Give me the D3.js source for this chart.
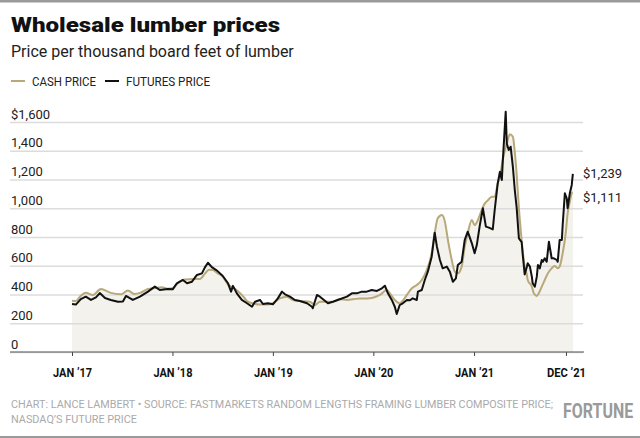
<!DOCTYPE html>
<html lang="en">
<head>
  <meta charset="UTF-8">
  <title>Wholesale lumber prices</title>
  <script src="https://d3js.org/d3.v7.min.js"></script>
  <style>
    body {
      margin: 0;
      background: #fff;
    }
    svg {
      display: block;
      font-family: Roboto, sans-serif;
    }
  </style>
</head>
<body>
<svg width="640" height="438"></svg>

<script>
// Futures price (black), $ per thousand board feet
const futuresPrice = [
  ["2017-01-01",334],["2017-01-15",330],["2017-02-02",368],["2017-02-20",385],["2017-03-11",362],
  ["2017-03-29",380],["2017-04-12",410],["2017-05-01",376],["2017-05-22",362],["2017-06-17",350],
  ["2017-07-05",352],["2017-07-16",390],["2017-08-10",362],["2017-09-05",385],["2017-10-04",420],
  ["2017-10-29",455],["2017-11-16",431],["2017-12-15",438],["2018-01-02",436],["2018-01-17",478],
  ["2018-02-08",501],["2018-02-23",478],["2018-03-13",489],["2018-03-31",536],["2018-04-18",547],
  ["2018-04-29",589],["2018-05-10",621],["2018-05-24",590],["2018-06-12",566],["2018-07-03",529],
  ["2018-07-22",478],["2018-08-02",420],["2018-08-09",460],["2018-08-23",408],["2018-09-10",362],
  ["2018-09-29",339],["2018-10-17",315],["2018-10-28",350],["2018-11-15",362],["2018-11-26",334],
  ["2018-12-14",339],["2019-01-01",332],["2019-01-19",373],["2019-02-03",420],["2019-02-14",401],
  ["2019-03-04",385],["2019-03-22",362],["2019-04-09",355],["2019-05-05",339],["2019-05-23",315],
  ["2019-05-26",304],["2019-06-10",397],["2019-06-21",385],["2019-07-09",357],["2019-07-20",339],
  ["2019-08-07",350],["2019-09-01",367],["2019-09-27",385],["2019-10-15",408],["2019-11-02",408],
  ["2019-11-20",420],["2019-12-08",420],["2019-12-26",431],["2020-01-14",425],["2020-02-01",443],
  ["2020-02-12",461],["2020-02-23",408],["2020-03-08",362],["2020-03-19",315],["2020-03-26",264],
  ["2020-04-06",327],["2020-04-17",339],["2020-05-02",362],["2020-05-13",360],["2020-05-23",373],
  ["2020-06-07",362],["2020-06-11",420],["2020-06-25",431],["2020-07-06",501],["2020-07-17",559],
  ["2020-07-31",663],["2020-08-11",830],["2020-08-19",733],["2020-08-30",640],["2020-09-09",582],
  ["2020-09-24",594],["2020-10-05",559],["2020-10-16",489],["2020-10-27",512],["2020-11-03",605],
  ["2020-11-17",628],["2020-11-28",779],["2020-12-09",837],["2020-12-24",756],["2021-01-03",687],
  ["2021-01-11",744],["2021-01-22",883],["2021-02-02",1000],["2021-02-13",872],["2021-02-24",865],
  ["2021-03-10",853],["2021-03-17",988],["2021-03-28",1173],["2021-04-05",1254],["2021-04-12",1197],
  ["2021-04-15",1314],["2021-04-26",1672],["2021-04-30",1451],["2021-05-07",1405],["2021-05-14",1428],
  ["2021-05-22",1289],["2021-05-29",1127],["2021-06-05",1000],["2021-06-13",790],["2021-06-23",765],
  ["2021-06-27",675],["2021-07-04",540],["2021-07-12",594],["2021-07-15",617],["2021-07-23",594],
  ["2021-07-30",524],["2021-08-02",478],["2021-08-10",455],["2021-08-17",524],["2021-08-21",605],
  ["2021-08-28",582],["2021-09-04",640],["2021-09-08",628],["2021-09-15",652],["2021-09-22",628],
  ["2021-09-26",698],["2021-09-30",767],["2021-10-07",687],["2021-10-10",652],["2021-10-18",652],
  ["2021-10-29",640],["2021-11-01",628],["2021-11-08",779],["2021-11-16",779],["2021-11-19",883],
  ["2021-11-27",1104],["2021-12-04",1068],["2021-12-07",1000],["2021-12-15",1104],["2021-12-22",1162],
  ["2021-12-26",1239]
];

// Cash price (tan)
const cashPrice = [
  ["2017-01-01",357],["2017-01-15",355],["2017-01-30",385],["2017-02-20",413],["2017-03-18",397],
  ["2017-04-16",438],["2017-05-19",413],["2017-06-28",401],["2017-07-23",427],["2017-08-17",403],
  ["2017-09-08",413],["2017-10-04",438],["2017-10-29",445],["2017-11-24",450],["2017-12-15",440],
  ["2018-01-02",443],["2018-01-21",480],["2018-02-15",505],["2018-03-24",508],["2018-04-11",508],
  ["2018-04-29",545],["2018-05-14",572],["2018-05-28",570],["2018-06-15",547],["2018-06-30",530],
  ["2018-07-22",470],["2018-08-16",440],["2018-09-03",410],["2018-09-18",380],["2018-09-29",355],
  ["2018-10-20",339],["2018-11-15",330],["2018-12-10",330],["2019-01-01",339],["2019-01-26",373],
  ["2019-02-21",385],["2019-03-15",362],["2019-04-09",355],["2019-05-15",350],["2019-06-03",327],
  ["2019-06-21",350],["2019-07-16",350],["2019-08-07",350],["2019-09-01",367],["2019-09-27",362],
  ["2019-10-19",367],["2019-11-13",373],["2019-12-08",373],["2019-12-30",378],["2020-01-25",397],
  ["2020-02-19",431],["2020-03-01",408],["2020-03-19",362],["2020-04-06",339],["2020-04-21",367],
  ["2020-05-02",397],["2020-05-20",443],["2020-06-07",466],["2020-06-25",501],["2020-07-13",570],
  ["2020-07-31",687],["2020-08-11",825],["2020-08-22",930],["2020-09-06",953],["2020-09-17",907],
  ["2020-09-28",779],["2020-10-12",640],["2020-10-23",559],["2020-11-03",547],["2020-11-17",594],
  ["2020-11-28",733],["2020-12-09",825],["2020-12-24",918],["2021-01-03",883],["2021-01-15",918],
  ["2021-01-29",988],["2021-02-09",1034],["2021-02-20",1055],["2021-03-06",1080],["2021-03-17",1080],
  ["2021-03-28",1173],["2021-04-05",1220],["2021-04-15",1336],["2021-04-30",1451],["2021-05-11",1514],
  ["2021-05-22",1498],["2021-05-29",1390],["2021-06-05",1230],["2021-06-13",1000],["2021-06-20",840],
  ["2021-06-27",700],["2021-07-04",594],["2021-07-12",536],["2021-07-15",501],["2021-07-30",455],
  ["2021-08-06",408],["2021-08-17",390],["2021-08-24",408],["2021-09-04",455],["2021-09-15",501],
  ["2021-09-26",547],["2021-10-10",582],["2021-10-21",598],["2021-11-01",582],["2021-11-08",594],
  ["2021-11-19",687],["2021-11-30",825],["2021-12-07",965],["2021-12-15",1046],["2021-12-22",1104],
  ["2021-12-26",1111]
];

const yTicks = [0, 200, 400, 600, 800, 1000, 1200, 1400, 1600];
const xTickDates = ["2017-01-01", "2018-01-01", "2019-01-01", "2020-01-01", "2021-01-01", "2021-12-01"];
const xTickLabels = ["JAN \u201917", "JAN \u201918", "JAN \u201919", "JAN \u201920", "JAN \u201921", "DEC \u201921"];

const cashColor = "#b8a87a",
      futuresColor = "#111",
      fillColor = "#f3f2ed";

const parse = d3.timeParse("%Y-%m-%d");
const cash = cashPrice.map(d => ({date: parse(d[0]), value: d[1]}));
const futures = futuresPrice.map(d => ({date: parse(d[0]), value: d[1]}));

const svg = d3.select("svg");

// narrow text: no condensed face installed, so squeeze the glyphs
function narrow(sel, width) {
  return sel.attr("textLength", width).attr("lengthAdjust", "spacingAndGlyphs");
}

// frame lines top and bottom
svg.append("rect").attr("x", 0).attr("y", 0).attr("width", 640).attr("height", 2.5).attr("fill", "#9a9a9a");
svg.append("rect").attr("x", 0).attr("y", 436).attr("width", 640).attr("height", 2).attr("fill", "#9a9a9a");

// scales
const x = d3.scaleTime()
  .domain([parse("2017-01-01"), parse("2022-01-01")])
  .range([72, 574.5]);

const y = d3.scaleLinear()
  .domain([0, 1600])
  .range([352, 122]);

const left = 10, right = 583;

// area fill under both series
const area = d3.area()
  .x(d => x(d.date))
  .y0(y(0))
  .y1(d => y(d.value));

svg.append("path").datum(cash).attr("fill", fillColor).attr("d", area.curve(d3.curveMonotoneX));
svg.append("path").datum(futures).attr("fill", fillColor).attr("d", area.curve(d3.curveLinear));

// gridlines + y labels
const yAxis = svg.append("g")
  .attr("transform", `translate(${left},0)`)
  .call(d3.axisRight(y)
    .tickValues(yTicks)
    .tickSize(right - left)
    .tickFormat(d => d === 1600 ? "$" + d3.format(",")(d) : d3.format(",")(d)));

yAxis.select(".domain").remove();
yAxis.selectAll(".tick line")
  .attr("stroke", "#dcdcdc")
  .attr("stroke-width", 1.5);
yAxis.selectAll(".tick text")
  .attr("x", 1)
  .attr("dy", -4)
  .attr("text-anchor", "start")
  .attr("fill", "#222")
  .style("font-size", "13px")
  .style("font-family", "Roboto, sans-serif");

// x axis
const xAxis = svg.append("g")
  .attr("transform", `translate(0,${y(0)})`)
  .call(d3.axisBottom(x)
    .tickValues(xTickDates.map(parse))
    .tickSize(4)
    .tickFormat((d, i) => xTickLabels[i]));

xAxis.select(".domain").remove();
xAxis.selectAll(".tick line").attr("stroke", "#444");
xAxis.selectAll(".tick text")
  .attr("y", 15)
  .attr("fill", "#111")
  .style("font-family", "Roboto, sans-serif")
  .style("font-size", "13.5px")
  .style("font-weight", "bold")
  .call(narrow, 39);

svg.append("line")
  .attr("x1", left).attr("x2", right + 1)
  .attr("y1", y(0)).attr("y2", y(0))
  .attr("stroke", "#555")
  .attr("stroke-width", 1.2);

// lines
svg.append("path")
  .datum(cash)
  .attr("fill", "none")
  .attr("stroke", cashColor)
  .attr("stroke-width", 2)
  .attr("stroke-linejoin", "round")
  .attr("d", d3.line().x(d => x(d.date)).y(d => y(d.value)).curve(d3.curveMonotoneX));

svg.append("path")
  .datum(futures)
  .attr("fill", "none")
  .attr("stroke", futuresColor)
  .attr("stroke-width", 2)
  .attr("stroke-linejoin", "round")
  .attr("d", d3.line().x(d => x(d.date)).y(d => y(d.value)));

// end labels
const lastF = futures[futures.length - 1], lastC = cash[cash.length - 1];
svg.append("text")
  .attr("x", 583).attr("y", y(lastF.value) + 4)
  .attr("fill", "#222").style("font-size", "13px")
  .text("$" + d3.format(",")(lastF.value));
svg.append("text")
  .attr("x", 583).attr("y", y(lastC.value) + 9.5)
  .attr("fill", "#222").style("font-size", "13px")
  .text("$" + d3.format(",")(lastC.value));

// title
svg.append("text")
  .attr("x", 11).attr("y", 32)
  .style("font-size", "21px").style("font-weight", 900)
  .attr("fill", "#111")
  .text("Wholesale lumber prices")
  .call(narrow, 269);

svg.append("text")
  .attr("x", 11).attr("y", 57)
  .style("font-size", "16px")
  .attr("fill", "#222")
  .text("Price per thousand board feet of lumber");

// legend
const legend = svg.append("g").attr("transform", "translate(11,81)");
const items = [
  {label: "CASH PRICE", color: cashColor, x: 0, w: 64},
  {label: "FUTURES PRICE", color: futuresColor, x: 94, w: 84}
];
items.forEach(it => {
  legend.append("line")
    .attr("x1", it.x).attr("x2", it.x + 14)
    .attr("y1", 0).attr("y2", 0)
    .attr("stroke", it.color).attr("stroke-width", 2);
  legend.append("text")
    .attr("x", it.x + 21).attr("y", 4.5)
    .attr("fill", "#222")
    .style("font-size", "12.5px")
    .text(it.label)
    .call(narrow, it.w);
});

// footer
svg.append("text")
  .attr("x", 11).attr("y", 408)
  .attr("fill", "#aaa")
  .style("font-size", "11px")
  .text("CHART: LANCE LAMBERT \u2022 SOURCE: FASTMARKETS RANDOM LENGTHS FRAMING LUMBER COMPOSITE PRICE;")
  .call(narrow, 542);
svg.append("text")
  .attr("x", 11).attr("y", 423)
  .attr("fill", "#aaa")
  .style("font-size", "11px")
  .text("NASDAQ\u2019S FUTURE PRICE")
  .call(narrow, 126);

// logo: squeezed with a transform so its box stays inside the frame
svg.append("text")
  .attr("transform", "translate(563,418) scale(0.76,1)")
  .attr("fill", "#9a9a9a")
  .style("font-size", "21px")
  .style("font-weight", "bold")
  .text("FORTUNE");
</script>
</body>
</html>
